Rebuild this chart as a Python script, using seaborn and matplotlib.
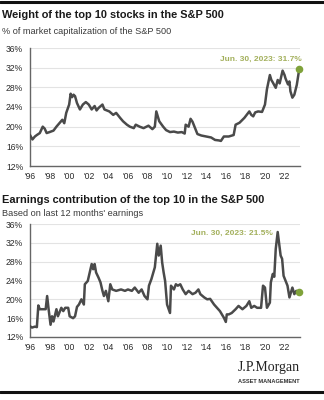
import matplotlib
matplotlib.use("Agg")
import matplotlib.pyplot as plt
import seaborn as sns
import pandas as pd

# Weight of the top 10 stocks (% of S&P 500 market cap)
weight_year = [1996.0, 1996.25, 1996.5, 1996.7, 1997.0, 1997.3, 1997.5, 1997.7, 1998.0, 1998.4,
               1998.7, 1999.0, 1999.3, 1999.5, 1999.7, 2000.0, 2000.15, 2000.3, 2000.45, 2000.6,
               2000.8, 2001.1, 2001.4, 2001.7, 2002.0, 2002.3, 2002.6, 2002.8, 2003.0, 2003.4,
               2003.6, 2004.1, 2004.5, 2004.8, 2005.2, 2005.5, 2005.9, 2006.2, 2006.6, 2006.8,
               2007.2, 2007.6, 2008.1, 2008.5, 2008.75, 2008.9, 2009.2, 2009.6, 2009.9, 2010.3,
               2010.7, 2011.1, 2011.5, 2011.8, 2011.9, 2012.2, 2012.4, 2012.6, 2013.1, 2013.5,
               2014.0, 2014.5, 2014.9, 2015.3, 2015.5, 2015.8, 2016.3, 2016.8, 2017.0, 2017.4,
               2017.9, 2018.4, 2018.6, 2018.8, 2019.0, 2019.3, 2019.7, 2020.0, 2020.2, 2020.5,
               2020.65, 2020.8, 2021.1, 2021.3, 2021.5, 2021.8, 2022.0, 2022.1, 2022.35, 2022.5,
               2022.6, 2022.8, 2023.0, 2023.25, 2023.5]
weight_pct = [18.3, 17.4, 18.0, 18.3, 18.7, 20.0, 19.6, 18.7, 18.9, 19.2,
              20.0, 20.7, 21.4, 20.7, 22.8, 24.5, 26.7, 26.0, 26.5, 26.2,
              24.8, 23.5, 24.5, 25.0, 24.5, 23.5, 24.2, 23.3, 23.8, 24.5,
              23.5, 23.1, 22.4, 22.8, 21.8, 21.1, 20.4, 20.0, 19.7, 20.4,
              20.0, 19.7, 20.2, 19.5, 20.0, 23.1, 21.1, 20.0, 19.3, 18.9,
              19.0, 18.8, 18.9, 18.6, 20.4, 20.0, 21.6, 21.0, 18.5, 18.2,
              18.0, 17.8, 17.3, 17.2, 17.1, 18.0, 18.0, 18.3, 20.4, 20.8,
              21.8, 23.1, 22.4, 22.1, 22.9, 23.1, 23.0, 24.5, 27.6, 30.5,
              29.5, 29.0, 27.9, 29.5, 28.8, 31.4, 30.5, 29.8, 28.6, 29.2,
              27.2, 25.9, 26.5, 28.5, 31.7]

# Earnings contribution of the top 10 (% of trailing 12m earnings)
earn_year = [1996.0, 1996.2, 1996.5, 1996.7, 1996.85, 1997.0, 1997.3, 1997.6, 1997.75, 1997.9,
             1998.1, 1998.25, 1998.4, 1998.7, 1998.85, 1999.2, 1999.4, 1999.6, 1999.9, 2000.05,
             2000.4, 2000.6, 2000.8, 2001.0, 2001.25, 2001.5, 2001.6, 2001.9, 2002.1, 2002.3,
             2002.45, 2002.6, 2002.75, 2003.0, 2003.2, 2003.4, 2003.55, 2003.75, 2004.0, 2004.2,
             2004.4, 2004.8, 2005.3, 2005.7, 2006.0, 2006.4, 2006.7, 2007.1, 2007.4, 2007.7,
             2008.0, 2008.15, 2008.4, 2008.75, 2009.0, 2009.15, 2009.35, 2009.5, 2009.65, 2009.8,
             2010.0, 2010.3, 2010.4, 2010.7, 2010.9, 2011.1, 2011.35, 2011.6, 2011.9, 2012.2,
             2012.6, 2012.9, 2013.2, 2013.4, 2013.8, 2014.1, 2014.4, 2014.8, 2015.1, 2015.4,
             2015.8, 2016.0, 2016.1, 2016.3, 2016.6, 2017.0, 2017.3, 2017.7, 2018.1, 2018.4,
             2018.6, 2018.9, 2019.2, 2019.6, 2019.8, 2020.0, 2020.2, 2020.5, 2020.6, 2020.8,
             2020.95, 2021.1, 2021.3, 2021.45, 2021.6, 2021.75, 2021.9, 2022.3, 2022.5, 2022.8,
             2023.0, 2023.2, 2023.5]
earn_pct = [14.3, 14.0, 14.2, 14.1, 18.7, 17.9, 17.9, 17.9, 20.7, 17.9,
            14.6, 16.4, 15.3, 17.9, 16.4, 18.2, 17.5, 18.2, 18.2, 16.4,
            16.0, 16.4, 18.4, 18.9, 20.0, 18.9, 23.2, 23.9, 25.7, 27.5,
            26.4, 27.5, 25.7, 24.6, 23.6, 21.8, 20.7, 21.8, 19.6, 23.2,
            22.1, 21.8, 22.1, 21.8, 22.1, 21.8, 22.5, 21.4, 22.1, 20.7,
            20.0, 22.9, 24.3, 26.8, 31.8, 29.3, 31.4, 27.8, 25.7, 23.9,
            18.9, 17.1, 22.9, 22.1, 23.2, 22.9, 23.2, 22.1, 21.1, 21.8,
            21.1, 21.4, 22.1, 21.1, 20.4, 20.0, 20.1, 18.9, 18.2, 17.5,
            16.1, 15.2, 16.8, 16.8, 17.1, 17.9, 18.6, 17.9, 18.6, 19.6,
            18.2, 18.6, 18.2, 18.2, 22.9, 22.5, 18.2, 19.3, 23.6, 25.4,
            24.8, 30.7, 34.3, 31.8, 29.3, 28.6, 25.0, 22.9, 20.4, 22.5,
            21.1, 21.8, 21.5]

tick_years = list(range(1996, 2023, 2))
tick_labels = ["'%02d" % (y % 100) for y in tick_years]
y_ticks = [12, 16, 20, 24, 28, 32, 36]

titles = ["Weight of the top 10 stocks in the S&P 500",
          "Earnings contribution of the top 10 in the S&P 500"]
subtitles = ["% of market capitalization of the S&P 500",
             "Based on last 12 months' earnings"]
callouts = ["Jun. 30, 2023: 31.7%", "Jun. 30, 2023: 21.5%"]

sns.set_theme(style="white")
plt.rcParams["font.family"] = ["Liberation Sans", "DejaVu Sans"]

LINE = "#4a4a4a"
GRID = "#e3e3e3"
DOT = "#7fa23a"
CALLOUT = "#a3b05c"
TEXT = "#2b2b2b"

fig = plt.figure(figsize=(3.24, 4.0), dpi=100)
fig.patch.set_facecolor("white")

ax_top = fig.add_axes([0.0926, 0.585, 0.834, 0.295])
ax_bot = fig.add_axes([0.0926, 0.1575, 0.834, 0.2825])

series = [(ax_top, weight_year, weight_pct), (ax_bot, earn_year, earn_pct)]
title_y = [0.962, 0.50]
sub_y = [0.922, 0.465]
callout_pos = [(2023.8, 33.6), (2020.8, 34.1)]

for i, (ax, yrs, vals) in enumerate(series):
    df = pd.DataFrame({"year": yrs, "pct": vals})
    sns.lineplot(data=df, x="year", y="pct", ax=ax, color=LINE, linewidth=1.8,
                 zorder=3)
    ax.scatter([yrs[-1]], [vals[-1]], s=30, color=DOT, zorder=4, linewidths=0,
               clip_on=False)
    cx, cy = callout_pos[i]
    ax.text(cx, cy, callouts[i], ha="right", va="center",
            fontsize=6.0, color=CALLOUT, fontweight="bold")

    ax.set_xlim(1996, 2023.6)
    ax.set_ylim(12, 36)
    ax.set_yticks(y_ticks)
    ax.set_yticklabels(["%d%%" % v for v in y_ticks])
    ax.set_xticks(tick_years)
    ax.set_xticklabels(tick_labels)
    ax.set_xlabel("")
    ax.set_ylabel("")
    ax.grid(axis="y", color=GRID, linewidth=0.8)
    ax.set_axisbelow(True)
    for s in ["top", "right"]:
        ax.spines[s].set_visible(False)
    for s in ["left", "bottom"]:
        ax.spines[s].set_color("#666666")
        ax.spines[s].set_linewidth(1.0)
    ax.tick_params(axis="x", direction="out", length=2.5, width=0.6, color="#666666",
                   labelsize=6.2, labelcolor=TEXT, pad=2)
    ax.tick_params(axis="y", length=0, labelsize=6.2, labelcolor=TEXT, pad=5)
    ax.patch.set_alpha(0)

    fig.text(0.006, title_y[i], titles[i], fontsize=7.9, fontweight="bold",
             color="#1a1a1a", va="center", ha="left")
    fig.text(0.006, sub_y[i], subtitles[i], fontsize=6.6, color="#3a3a3a",
             va="center", ha="left")

# Logo block
fig.text(0.926, 0.08, "J.P.Morgan", fontsize=10, family="Liberation Serif",
         color="#222222", ha="right", va="center")
fig.text(0.926, 0.047, "ASSET MANAGEMENT", fontsize=4.1, fontweight="bold",
         color="#333333", ha="right", va="center")

# Frame rules at top and bottom
fig.add_artist(plt.Line2D([0, 1], [0.996, 0.996], color="#111111", linewidth=2.2))
fig.add_artist(plt.Line2D([0, 1], [0.02, 0.02], color="#111111", linewidth=2.2))

fig.savefig("out.png", dpi=100, facecolor="white")
